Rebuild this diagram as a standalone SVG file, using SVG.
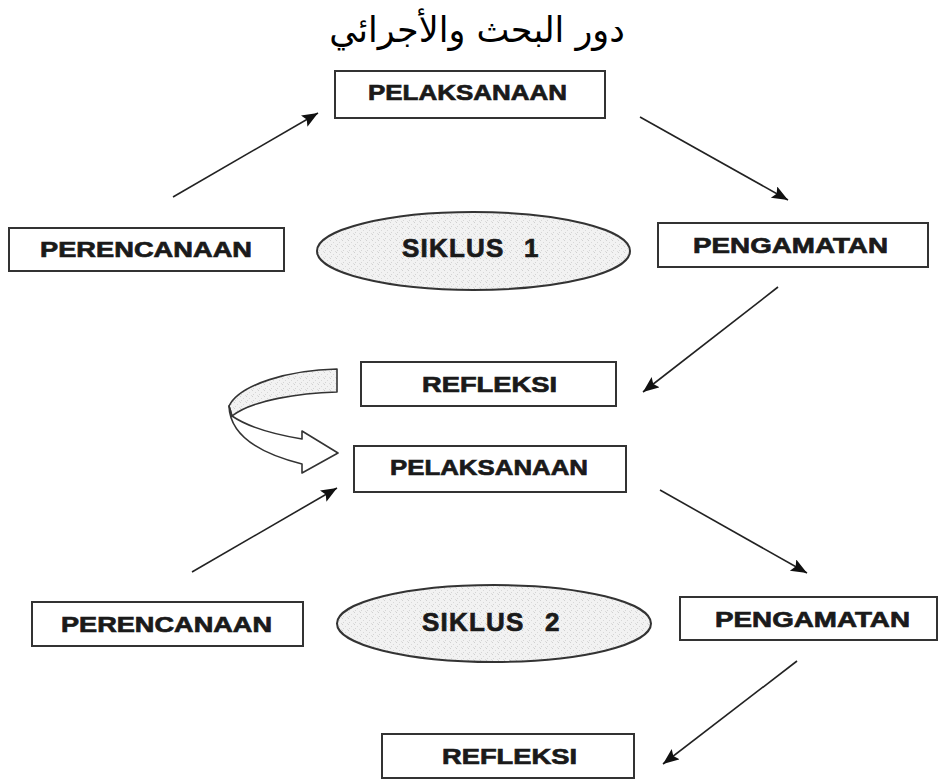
<svg xmlns="http://www.w3.org/2000/svg" width="939" height="783" viewBox="0 0 939 783">
<style>
.box{fill:#fff;stroke:#333;stroke-width:2}
.ell{fill:url(#stip);stroke:#333;stroke-width:2}
.lbl{font-family:"Liberation Sans",Arial,sans-serif;font-weight:bold;font-size:22.5px;fill:#1a1a1a;stroke:#1a1a1a;stroke-width:0.7}
.sik{font-family:"Liberation Sans",Arial,sans-serif;font-weight:bold;font-size:26px;fill:#1a1a1a;stroke:#1a1a1a;stroke-width:0.7}
.arr{stroke:#222;stroke-width:1.6;fill:none;marker-end:url(#ah)}
.ribbon{stroke:#333;stroke-width:1.6;stroke-linejoin:round}
.title{font-family:"DejaVu Serif","DejaVu Sans","Noto Sans",serif;font-size:35px;fill:#000}
</style>
<defs>
<pattern id="stip" width="6" height="6" patternUnits="userSpaceOnUse">
<rect width="6" height="6" fill="#f2f2f2"/>
<rect x="0" y="0" width="1" height="1" fill="#d0d0d0"/>
<rect x="3" y="2" width="1" height="1" fill="#d8d8d8"/>
<rect x="1" y="4" width="1" height="1" fill="#d4d4d4"/>
<rect x="5" y="5" width="1" height="1" fill="#dcdcdc"/>
</pattern>
<marker id="ah" markerUnits="userSpaceOnUse" markerWidth="17" markerHeight="14" refX="16" refY="6.5" orient="auto">
<path d="M0,0 L16,6.5 L0,13 L3,6.5 Z" fill="#111"/>
</marker>
</defs>
<rect width="939" height="783" fill="#fff"/>
<text class="title" x="477" y="42" text-anchor="middle" direction="rtl">دور البحث والأجرائي</text>

<g id="connectors">
<line class="arr" x1="173" y1="197" x2="318" y2="113"/>
<line class="arr" x1="640" y1="117" x2="788" y2="200"/>
<line class="arr" x1="778" y1="287" x2="643" y2="392"/>
<line class="arr" x1="192" y1="572" x2="337" y2="488"/>
<line class="arr" x1="660" y1="490" x2="807" y2="573"/>
<line class="arr" x1="797" y1="661" x2="663" y2="764"/>
<g id="curved-arrow">
<path class="ribbon" fill="url(#stip)" d="M337,369 L337,392 C300,393 252,400 232,416 L229,406 C240,384 290,370 337,369 Z"/>
<path class="ribbon" fill="#fff" d="M232,416 C248,427 272,434 302,439 L302,431 L338,453 L302,473 L302,464 C262,454 230,436 229,406 Z"/>
</g>
</g>

<g id="pelaksanaan1">
<rect class="box" x="335" y="71" width="270" height="47"/>
<text class="lbl" x="368" y="100" textLength="199" lengthAdjust="spacingAndGlyphs">PELAKSANAAN</text>
</g>
<g id="perencanaan1">
<rect class="box" x="9" y="228" width="275" height="43"/>
<text class="lbl" x="40" y="257" textLength="212" lengthAdjust="spacingAndGlyphs">PERENCANAAN</text>
</g>
<g id="siklus1">
<ellipse class="ell" cx="473.5" cy="251" rx="156.5" ry="39"/>
<text class="sik" x="402" y="257" letter-spacing="1.2">SIKLUS <tspan x="524">1</tspan></text>
</g>
<g id="pengamatan1">
<rect class="box" x="658" y="223" width="270" height="44"/>
<text class="lbl" x="693" y="253" textLength="195" lengthAdjust="spacingAndGlyphs">PENGAMATAN</text>
</g>
<g id="refleksi1">
<rect class="box" x="361" y="362" width="255" height="44"/>
<text class="lbl" x="422" y="392" textLength="135" lengthAdjust="spacingAndGlyphs">REFLEKSI</text>
</g>
<g id="pelaksanaan2">
<rect class="box" x="354" y="446" width="272" height="46"/>
<text class="lbl" x="390" y="475" textLength="198" lengthAdjust="spacingAndGlyphs">PELAKSANAAN</text>
</g>
<g id="perencanaan2">
<rect class="box" x="32" y="602" width="271" height="44"/>
<text class="lbl" x="61" y="632" textLength="211" lengthAdjust="spacingAndGlyphs">PERENCANAAN</text>
</g>
<g id="siklus2">
<ellipse class="ell" cx="494" cy="623.5" rx="157" ry="38.5"/>
<text class="sik" x="422" y="631" letter-spacing="1.2">SIKLUS <tspan x="545">2</tspan></text>
</g>
<g id="pengamatan2">
<rect class="box" x="680" y="597" width="257" height="43"/>
<text class="lbl" x="715" y="627" textLength="195" lengthAdjust="spacingAndGlyphs">PENGAMATAN</text>
</g>
<g id="refleksi2">
<rect class="box" x="382" y="734" width="252" height="44"/>
<text class="lbl" x="442" y="764" textLength="135" lengthAdjust="spacingAndGlyphs">REFLEKSI</text>
</g>
</svg>
